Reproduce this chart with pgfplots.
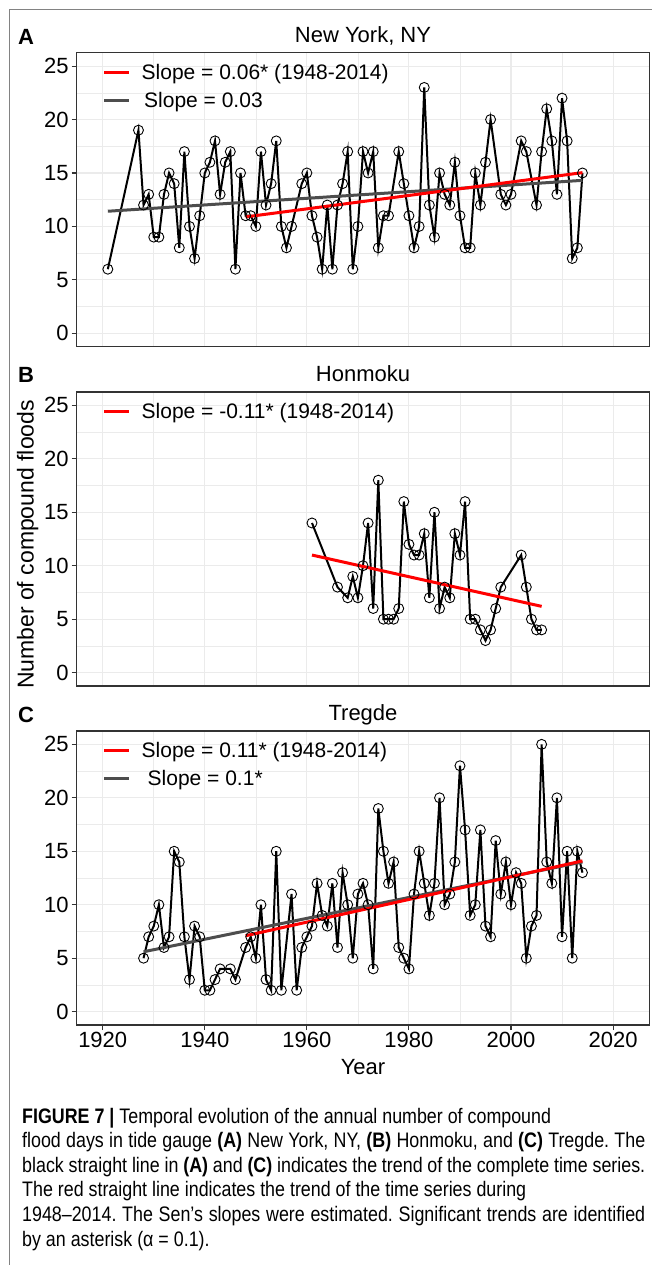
\documentclass[border=0pt]{standalone}
\usepackage{fontspec}
\setmainfont{Liberation Sans}
\newfontfamily\capfont[FakeStretch=0.85]{Liberation Sans}
\usepackage{pgfplots}
\pgfplotsset{compat=1.18}
\definecolor{gridc}{RGB}{235,235,235}
\definecolor{framec}{RGB}{51,51,51}
\definecolor{trendgray}{RGB}{77,77,77}
\definecolor{figframe}{RGB}{130,130,130}
\pgfplotsset{
  panel/.style={
    scale only axis, width=572.6pt, height=294pt,
    xmin=1914.9, xmax=2027.1, ymin=-1.25, ymax=26.25,
    xtick={1920,1940,...,2020}, minor xtick={1930,1950,...,2010},
    ytick={0,5,...,25}, minor ytick={2.5,7.5,...,22.5},
    grid=both,
    major grid style={draw=gridc, line width=1.1pt},
    minor grid style={draw=gridc, line width=0.55pt},
    axis line style={draw=framec, line width=1.1pt},
    tick align=outside, tick pos=left,
    major tick length=5pt, minor tick length=0pt,
    tick style={draw=framec, line width=1.1pt},
    minor tick style={draw=none},
    ticklabel style={font=\fontsize{22}{22}\selectfont, text=black},
    yticklabel style={inner sep=0pt, xshift=-3pt},
    xticklabel style={inner sep=0pt, yshift=-2pt},
    /pgf/number format/assume math mode=true,
    /pgf/number format/set thousands separator={},
    legend cell align=left,
    legend image code/.code={\draw[##1] (0pt,0pt) -- (25pt,0pt);},
    legend style={draw=none, fill=none, at={(axis description cs:0,1)}, anchor=north west,
      xshift=26pt, yshift=-11.5pt, inner sep=0pt, outer sep=0pt, row sep=11pt, column sep=11pt,
      font=\fontsize{21}{21}\selectfont, nodes={inner sep=0pt}},
  },
  dataline/.style={black, line width=2pt, mark=o, mark size=5pt, mark options={line width=0.9pt, solid}, forget plot},
  redtrend/.style={red, line width=3pt, forget plot},
  graytrend/.style={trendgray, line width=3pt, forget plot},
}
\begin{document}
\begin{tikzpicture}
% ---------------- Panel A: New York ----------------
\begin{axis}[panel, at={(76.7pt,-346.7pt)}, anchor=south west,
  xticklabels={}, xtick style={draw=none}]
\addlegendimage{red, line width=3pt}
\addlegendentry{Slope = 0.06* (1948-2014)}
\addlegendimage{trendgray, line width=3pt}
\addlegendentry{\hspace{2.5pt}Slope = 0.03}
\addplot[dataline] table {
1921 6
1927 19
1928 12
1929 13
1930 9
1931 9
1932 13
1933 15
1934 14
1935 8
1936 17
1937 10
1938 7
1939 11
1940 15
1941 16
1942 18
1943 13
1944 16
1945 17
1946 6
1947 15
1948 11
1949 11
1950 10
1951 17
1952 12
1953 14
1954 18
1955 10
1956 8
1957 10
1959 14
1960 15
1961 11
1962 9
1963 6
1964 12
1965 6
1966 12
1967 14
1968 17
1969 6
1970 10
1971 17
1972 15
1973 17
1974 8
1975 11
1976 11
1978 17
1979 14
1980 11
1981 8
1982 10
1983 23
1984 12
1985 9
1986 15
1987 13
1988 12
1989 16
1990 11
1991 8
1992 8
1993 15
1994 12
1995 16
1996 20
1998 13
1999 12
2000 13
2002 18
2003 17
2005 12
2006 17
2007 21
2008 18
2009 13
2010 22
2011 18
2012 7
2013 8
2014 15
};
\addplot[graytrend] coordinates {(1921,11.42) (2014,14.31)};
\addplot[redtrend] coordinates {(1948,10.89) (2014,15.03)};
\end{axis}
% ---------------- Panel B: Honmoku ----------------
\begin{axis}[panel, at={(76.7pt,-686pt)}, anchor=south west,
  xticklabels={}, xtick style={draw=none}]
\addlegendimage{red, line width=3pt}
\addlegendentry{Slope = -0.11* (1948-2014)}
\addplot[dataline] table {
1961 14
1966 8
1968 7
1969 9
1970 7
1971 10
1972 14
1973 6
1974 18
1975 5
1976 5
1977 5
1978 6
1979 16
1980 12
1981 11
1982 11
1983 13
1984 7
1985 15
1986 6
1987 8
1988 7
1989 13
1990 11
1991 16
1992 5
1993 5
1994 4
1995 3
1996 4
1997 6
1998 8
2002 11
2003 8
2004 5
2005 4
2006 4
};
\addplot[redtrend] coordinates {(1961,11.0) (2006,6.2)};
\end{axis}
% ---------------- Panel C: Tregde ----------------
\begin{axis}[panel, at={(76.7pt,-1025pt)}, anchor=south west]
\addlegendimage{red, line width=3pt}
\addlegendentry{Slope = 0.11* (1948-2014)}
\addlegendimage{trendgray, line width=3pt}
\addlegendentry{\hspace{6pt}Slope = 0.1*}
\addplot[dataline] table {
1928 5
1929 7
1930 8
1931 10
1932 6
1933 7
1934 15
1935 14
1936 7
1937 3
1938 8
1939 7
1940 2
1941 2
1942 3
1943 4
1945 4
1946 3
1948 6
1949 7
1950 5
1951 10
1952 3
1953 2
1954 15
1955 2
1957 11
1958 2
1959 6
1960 7
1961 8
1962 12
1963 9
1964 8
1965 12
1966 6
1967 13
1968 10
1969 5
1970 11
1971 12
1972 10
1973 4
1974 19
1975 15
1976 12
1977 14
1978 6
1979 5
1980 4
1981 11
1982 15
1983 12
1984 9
1985 12
1986 20
1987 10
1988 11
1989 14
1990 23
1991 17
1992 9
1993 10
1994 17
1995 8
1996 7
1997 16
1998 11
1999 14
2000 10
2001 13
2002 12
2003 5
2004 8
2005 9
2006 25
2007 14
2008 12
2009 20
2010 7
2011 15
2012 5
2013 15
2014 13
};
\addplot[graytrend] coordinates {(1928,5.6) (2014,14.0)};
\addplot[redtrend] coordinates {(1948,7.1) (2014,14.1)};
\end{axis}
% ---------------- Labels ----------------
\node[anchor=base west, font=\fontsize{22}{22}\selectfont\bfseries, inner sep=0pt] at (18pt,-45pt) {A};
\node[anchor=base west, font=\fontsize{22}{22}\selectfont\bfseries, inner sep=0pt] at (18pt,-382.5pt) {B};
\node[anchor=base west, font=\fontsize{22}{22}\selectfont\bfseries, inner sep=0pt] at (18pt,-722pt) {C};
\node[anchor=base, font=\fontsize{22}{22}\selectfont, inner sep=0pt] at (363pt,-43pt) {New York, NY};
\node[anchor=base, font=\fontsize{22}{22}\selectfont, inner sep=0pt] at (363pt,-381pt) {Honmoku};
\node[anchor=base, font=\fontsize{22}{22}\selectfont, inner sep=0pt] at (363pt,-720pt) {Tregde};
\node[anchor=base, rotate=90, font=\fontsize{23}{23}\selectfont, inner sep=0pt] at (33.5pt,-544.5pt) {Number of compound floods};
\node[anchor=base, font=\fontsize{22}{22}\selectfont, inner sep=0pt] at (363pt,-1074pt) {Year};
% ---------------- Frame ----------------
\draw[figframe, line width=1pt] (9.3pt,-1265pt) -- (9.3pt,-10pt) -- (652pt,-10pt);
% ---------------- Caption ----------------
\begin{scope}[every node/.style={anchor=base west, inner sep=0pt, font=\capfont\fontsize{21}{21}\selectfont\frenchspacing}]
\node at (22pt,-1123pt) {\textbf{FIGURE 7 |} Temporal evolution of the annual number of compound};
\node at (22pt,-1147.6pt) {\makebox[623pt][s]{flood days in tide gauge \textbf{(A)} New York, NY, \textbf{(B)} Honmoku, and \textbf{(C)} Tregde. The}};
\node at (22pt,-1172.2pt) {\makebox[623pt][s]{black straight line in \textbf{(A)} and \textbf{(C)} indicates the trend of the complete time series.}};
\node at (22pt,-1196.8pt) {The red straight line indicates the trend of the time series during};
\node at (22pt,-1221.4pt) {\makebox[623pt][s]{1948–2014. The Sen’s slopes were estimated. Significant trends are identified}};
\node at (22pt,-1246pt) {by an asterisk (α = 0.1).};
\end{scope}
\pgfresetboundingbox
\path (0pt,0pt) rectangle (652pt,-1265pt);
\end{tikzpicture}
\end{document}
